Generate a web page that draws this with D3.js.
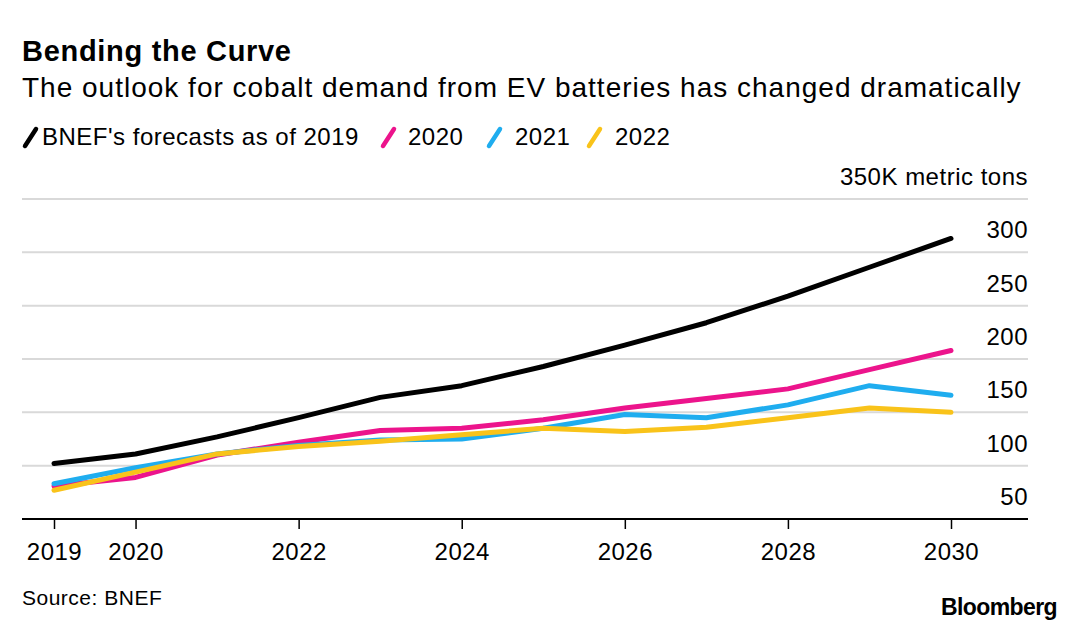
<!DOCTYPE html>
<html>
<head>
<meta charset="utf-8">
<script src="https://cdn.jsdelivr.net/npm/d3@7"></script>
<style>
  body { margin: 0; background: #fff; }
  svg { font-family: "Liberation Sans", Arial, sans-serif; }
</style>
</head>
<body>
<svg id="chart" width="1080" height="630"></svg>
<script>
// values in thousand metric tons
var years = [2019, 2020, 2021, 2022, 2023, 2024, 2025, 2026, 2027, 2028, 2029, 2030];
var forecast2019 = [102, 111, 127, 145, 164, 175, 193, 213, 234, 259, 286, 313];
var forecast2020 = [81, 89, 110, 122, 133, 135, 143, 154, 163, 172, 190, 208];
var forecast2021 = [83, 98, 111, 119, 124, 125, 135, 148, 145, 157, 175, 166];
var forecast2022 = [77, 94, 111, 118, 123, 129, 135, 132, 136, 145, 154, 150];
var yTicks = [50, 100, 150, 200, 250, 300, 350];
var xTicks = [2019, 2020, 2022, 2024, 2026, 2028, 2030];

var series = [
    {name: "BNEF's forecasts as of 2019", values: forecast2019, color: "#000000"},
    {name: "2020", values: forecast2020, color: "#ec148c"},
    {name: "2021", values: forecast2021, color: "#1fadef"},
    {name: "2022", values: forecast2022, color: "#f9c31a"}
];

var svg = d3.select("#chart");
var plotLeft = 22, plotRight = 1028, plotTop = 199, plotBottom = 519;

var x = d3.scaleLinear().domain([2019, 2030]).range([54, 951]);
var y = d3.scaleLinear().domain([50, 350]).range([plotBottom, plotTop]);

// titles
svg.append("text").attr("x", 22).attr("y", 61)
    .attr("font-size", 29).attr("font-weight", "bold").attr("letter-spacing", 0.7)
    .attr("fill", "#000")
    .text("Bending the Curve");
svg.append("text").attr("x", 22).attr("y", 97)
    .attr("font-size", 28).attr("letter-spacing", 1).attr("fill", "#000")
    .text("The outlook for cobalt demand from EV batteries has changed dramatically");

// legend
var slashX = [22, 380, 486, 586];
var labelX = [42, 408, 515, 615];
var legend = svg.append("g");
series.forEach(function(s, i) {
    legend.append("line")
        .attr("x1", slashX[i] + 3).attr("y1", 146).attr("x2", slashX[i] + 14).attr("y2", 129)
        .attr("stroke", s.color).attr("stroke-width", 4.5).attr("stroke-linecap", "round");
    legend.append("text").attr("x", labelX[i]).attr("y", 145)
        .attr("font-size", 24).attr("letter-spacing", 0.5).attr("fill", "#000").text(s.name);
});

// gridlines
svg.append("g").selectAll("line")
    .data(yTicks.filter(function(d) { return d > 50; }))
    .join("line")
    .attr("x1", plotLeft).attr("x2", plotRight)
    .attr("y1", function(d) { return y(d); }).attr("y2", function(d) { return y(d); })
    .attr("stroke", "#d9d9d9").attr("stroke-width", 2);

// y labels sit above their gridline
svg.append("g").selectAll("text")
    .data(yTicks)
    .join("text")
    .attr("x", plotRight).attr("y", function(d) { return y(d) - 14; })
    .attr("text-anchor", "end").attr("font-size", 24).attr("letter-spacing", 0.5)
    .attr("fill", "#000")
    .text(function(d) { return d === 350 ? "350K metric tons" : d; });

// baseline + x axis
var xAxis = d3.axisBottom(x).tickValues(xTicks).tickFormat(d3.format("d"))
    .tickSizeInner(10).tickSizeOuter(0).tickPadding(14);
var gx = svg.append("g").attr("transform", "translate(0," + plotBottom + ")").call(xAxis);
gx.select(".domain").remove();
gx.selectAll(".tick line").attr("stroke", "#000").attr("stroke-width", 1.5);
gx.selectAll(".tick text").attr("font-size", 24).attr("letter-spacing", 0.5).attr("fill", "#000")
    .attr("font-family", "Liberation Sans, Arial, sans-serif");
svg.append("line").attr("x1", plotLeft).attr("x2", plotRight)
    .attr("y1", plotBottom).attr("y2", plotBottom)
    .attr("stroke", "#000").attr("stroke-width", 2);

// lines
var line = d3.line()
    .x(function(d, i) { return x(years[i]); })
    .y(function(d) { return y(d); });

svg.append("g").selectAll("path")
    .data(series)
    .join("path")
    .attr("d", function(s) { return line(s.values); })
    .attr("fill", "none")
    .attr("stroke", function(s) { return s.color; })
    .attr("stroke-width", 5)
    .attr("stroke-linejoin", "round")
    .attr("stroke-linecap", "round");

// footer
svg.append("text").attr("x", 22).attr("y", 605)
    .attr("font-size", 21).attr("letter-spacing", 0.5).attr("fill", "#000").text("Source: BNEF");
svg.append("text").attr("x", 1057).attr("y", 615)
    .attr("text-anchor", "end").attr("font-size", 23).attr("font-weight", "bold")
    .attr("letter-spacing", -0.6).attr("fill", "#000").text("Bloomberg");
</script>
</body>
</html>
